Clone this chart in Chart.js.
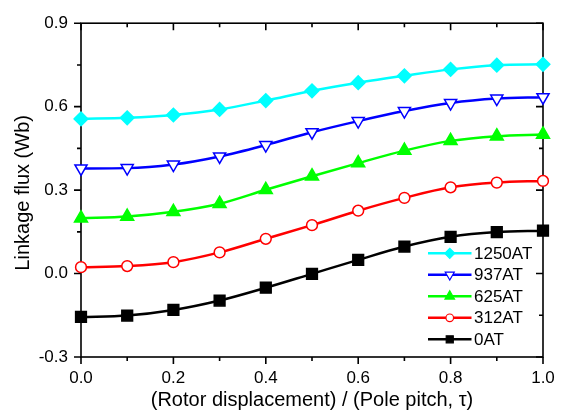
<!DOCTYPE html>
<html><head><meta charset="utf-8">
<script src="https://cdn.jsdelivr.net/npm/chart.js@4"></script>
<style>html,body{margin:0;padding:0;background:#fff}</style>
</head><body>
<canvas id="c" width="568" height="412"></canvas>
<script>
const displacement = [0.0, 0.1, 0.2, 0.3, 0.4, 0.5, 0.6, 0.7, 0.8, 0.9, 1.0];
const flux1250AT = [0.556, 0.560, 0.570, 0.590, 0.622, 0.657, 0.686, 0.711, 0.734, 0.749, 0.752];
const flux937AT  = [0.378, 0.379, 0.392, 0.421, 0.462, 0.508, 0.548, 0.584, 0.613, 0.629, 0.634];
const flux625AT  = [0.199, 0.205, 0.222, 0.251, 0.301, 0.350, 0.397, 0.442, 0.477, 0.494, 0.500];
const flux312AT  = [0.023, 0.027, 0.041, 0.076, 0.125, 0.174, 0.226, 0.272, 0.310, 0.327, 0.333];
const flux0AT    = [-0.156, -0.151, -0.131, -0.097, -0.051, -0.001, 0.049, 0.097, 0.132, 0.149, 0.154];
const seriesLabels = ['1250AT', '937AT', '625AT', '312AT', '0AT'];
const xMajorTicks = [0.0, 0.2, 0.4, 0.6, 0.8, 1.0];
const xMinorTicks = [0.1, 0.3, 0.5, 0.7, 0.9];
const yMajorTicks = [-0.3, 0.0, 0.3, 0.6, 0.9];
const yMinorTicks = [-0.15, 0.15, 0.45, 0.75];
const xTitle = '(Rotor displacement) / (Pole pitch, \u03C4)';
const yTitle = 'Linkage flux (Wb) ';

const FONT = "'Liberation Sans', Arial, sans-serif";

function pts(ys) { return displacement.map((x, i) => ({x: x, y: ys[i]})); }

const styles = [
  {color: '#00FFFF', pointStyle: 'rectRot', radius: 6.8, fill: '#00FFFF', rotation: 0, legendR: 5},
  {color: '#0000FF', pointStyle: 'triangle', radius: 7, fill: '#FFFFFF', rotation: 180, legendR: 5.2},
  {color: '#00FF00', pointStyle: 'triangle', radius: 7.5, fill: '#00FF00', rotation: 0, legendR: 5.5},
  {color: '#FF0000', pointStyle: 'circle', radius: 5.4, fill: '#FFFFFF', rotation: 0, legendR: 3.8},
  {color: '#000000', pointStyle: 'rect', radius: 7.6, fill: '#000000', rotation: 0, legendR: 5}
];
const seriesData = [flux1250AT, flux937AT, flux625AT, flux312AT, flux0AT];

const datasets = seriesData.map((d, i) => ({
  label: seriesLabels[i],
  data: pts(d),
  borderColor: styles[i].color,
  backgroundColor: styles[i].color,
  borderWidth: 2.5,
  cubicInterpolationMode: 'monotone',
  pointStyle: styles[i].pointStyle,
  pointRadius: styles[i].radius,
  pointRotation: styles[i].rotation,
  pointBackgroundColor: styles[i].fill,
  pointBorderColor: styles[i].color,
  pointBorderWidth: 1.5,
  clip: false
}));

const framePlugin = {
  id: 'frame',
  beforeDatasetsDraw(chart) {
    const {ctx, chartArea: a, scales: {x, y}} = chart;
    ctx.save();
    ctx.strokeStyle = '#000';
    ctx.lineWidth = 1.6;
    ctx.strokeRect(a.left, a.top, a.right - a.left, a.bottom - a.top);
    ctx.beginPath();
    const drawX = (vals, len) => vals.forEach(v => {
      const px = x.getPixelForValue(v);
      ctx.moveTo(px, a.bottom); ctx.lineTo(px, a.bottom + len);
      ctx.moveTo(px, a.top); ctx.lineTo(px, a.top + len);
    });
    const drawY = (vals, len) => vals.forEach(v => {
      const py = y.getPixelForValue(v);
      ctx.moveTo(a.left, py); ctx.lineTo(a.left - len, py);
      ctx.moveTo(a.right, py); ctx.lineTo(a.right - len, py);
    });
    drawX(xMajorTicks, 7); drawX(xMinorTicks, 4);
    drawY(yMajorTicks, 7); drawY(yMinorTicks, 4);
    ctx.stroke();
    ctx.restore();
  }
};

const legendPlugin = {
  id: 'cornerLegend',
  afterDraw(chart) {
    const {ctx, chartArea: a} = chart;
    ctx.save();
    const x0 = a.right - 115, x1 = a.right - 71.5, xm = (x0 + x1) / 2, xt = a.right - 69;
    const yStart = a.bottom - 103.7, dy = 21.5;
    ctx.font = '17px ' + FONT;
    ctx.textBaseline = 'middle';
    ctx.textAlign = 'left';
    chart.data.datasets.forEach((ds, i) => {
      const yy = yStart + i * dy;
      ctx.strokeStyle = ds.borderColor;
      ctx.lineWidth = 2.5;
      ctx.beginPath(); ctx.moveTo(x0, yy); ctx.lineTo(x1, yy); ctx.stroke();
      ctx.fillStyle = ds.pointBackgroundColor;
      ctx.strokeStyle = ds.pointBorderColor;
      ctx.lineWidth = 1.2;
      Chart.helpers.drawPoint(ctx, {pointStyle: ds.pointStyle, radius: styles[i].legendR, rotation: ds.pointRotation, borderWidth: 1.2}, xm, yy);
      ctx.fillStyle = '#000';
      ctx.fillText(ds.label, xt, yy + 1);
    });
    ctx.restore();
  }
};

new Chart(document.getElementById('c'), {
  type: 'line',
  data: {datasets},
  options: {
    responsive: false,
    animation: false,
    devicePixelRatio: 1,
    layout: {padding: {top: 15, right: 25, bottom: 0, left: 0}},
    plugins: {legend: {display: false}, tooltip: {enabled: false}},
    scales: {
      x: {
        type: 'linear', min: 0, max: 1,
        afterBuildTicks: s => { s.ticks = xMajorTicks.map(v => ({value: v})); },
        afterFit: s => { s.height = 55; },
        grid: {display: false, drawTicks: false},
        border: {display: false},
        ticks: {padding: 11, color: '#000', font: {family: FONT, size: 17}, callback: v => Number(v).toFixed(1)},
        title: {display: true, text: xTitle, color: '#000', font: {family: FONT, size: 20}, padding: {top: 0, bottom: 0}}
      },
      y: {
        type: 'linear', min: -0.3, max: 0.9,
        afterBuildTicks: s => { s.ticks = yMajorTicks.map(v => ({value: v})); },
        afterFit: s => { s.width = 81; },
        grid: {display: false, drawTicks: false},
        border: {display: false},
        ticks: {padding: 13, color: '#000', font: {family: FONT, size: 17}, callback: v => Number(v).toFixed(1)},
        title: {display: true, text: yTitle, color: '#000', font: {family: FONT, size: 20}, padding: {top: 11, bottom: 0}}
      }
    }
  },
  plugins: [framePlugin, legendPlugin]
});
</script>
</body></html>
